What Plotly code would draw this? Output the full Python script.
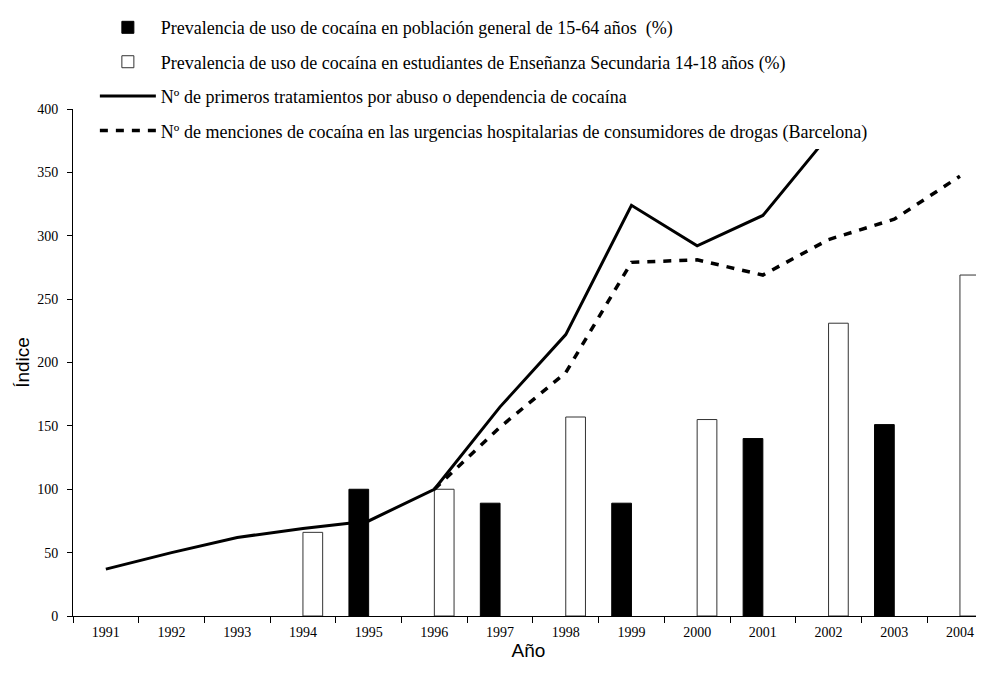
import plotly.graph_objects as go

years = ["1991", "1992", "1993", "1994", "1995", "1996", "1997",
         "1998", "1999", "2000", "2001", "2002", "2003", "2004"]

# Prevalencia población general 15-64 (índice)
poblacion_general = [None, None, None, None, 100, None, 89,
                     None, 89, None, 140, None, 151, None]
# Prevalencia estudiantes 14-18 (índice)
estudiantes = [None, None, None, 66, None, 100, None,
               157, None, 155, None, 231, None, 269]
# Nº primeros tratamientos
tratamientos = [37, 50, 62, 69, 75, 100, 165,
                222, 324, 292, 316, 379, None, None]
# Nº menciones urgencias (Barcelona)
urgencias = [None, None, None, None, None, 100, 149,
             192, 279, 281, 269, 297, 313, 347]

names = [
    "Prevalencia de uso de cocaína en población general de 15-64 años  (%)",
    "Prevalencia de uso de cocaína en estudiantes de Enseñanza Secundaria 14-18 años (%)",
    "Nº de primeros tratamientos por abuso o dependencia de cocaína",
    "Nº de menciones de cocaína en las urgencias hospitalarias de consumidores de drogas (Barcelona)",
]

serif = "Liberation Serif, Times New Roman, serif"
sans = "Liberation Sans, Arial, sans-serif"

fig = go.Figure()
fig.add_trace(go.Bar(x=years, y=poblacion_general, name=names[0],
                     marker=dict(color="black", line=dict(color="black", width=1)),
                     legendgroup="a"))
fig.add_trace(go.Bar(x=years, y=estudiantes, name=names[1],
                     marker=dict(color="white", line=dict(color="#333333", width=1)),
                     legendgroup="b"))
fig.add_trace(go.Scatter(x=years, y=tratamientos, name=names[2], mode="lines",
                         line=dict(color="black", width=3),
                         connectgaps=False, legendgroup="c"))
fig.add_trace(go.Scatter(x=years, y=urgencias, name=names[3], mode="lines",
                         line=dict(color="black", width=3.5, dash="8px,8px"),
                         connectgaps=False, legendgroup="d"))

# The page body has an 8px default margin, so the figure is sized/offset to compensate
fig.update_layout(
    width=976, height=672,
    margin=dict(l=65, r=0, t=101, b=64),
    paper_bgcolor="white", plot_bgcolor="white",
    barmode="group", bargap=0.4, bargroupgap=0,
    font=dict(family=serif, size=13, color="black"),
    legend=dict(
        x=0.024, y=1.197, xanchor="left", yanchor="top",
        bgcolor="white", borderwidth=0,
        font=dict(family=serif, size=18, color="black"),
        tracegroupgap=8, itemwidth=56,
        traceorder="grouped",
    ),
    showlegend=True,
)
fig.update_xaxes(
    type="category", range=[-0.5, 13.366], automargin=False,
    showline=True, linecolor="black", linewidth=1,
    ticks="outside", ticklen=6, tickcolor="black", tickson="boundaries",
    showgrid=False, zeroline=False, ticklabelstandoff=3,
    tickfont=dict(family=serif, size=14),
    title=dict(text="Año", font=dict(family=sans, size=19), standoff=0),
)
fig.update_yaxes(
    range=[0, 400], dtick=50, automargin=False,
    showline=True, linecolor="black", linewidth=1,
    ticks="outside", ticklen=5, tickcolor="black",
    showgrid=False, zeroline=False, ticklabelstandoff=6,
    tickfont=dict(family=serif, size=14),
    title=dict(text="Índice", font=dict(family=sans, size=19), standoff=2),
)

fig.write_html("out.html")
